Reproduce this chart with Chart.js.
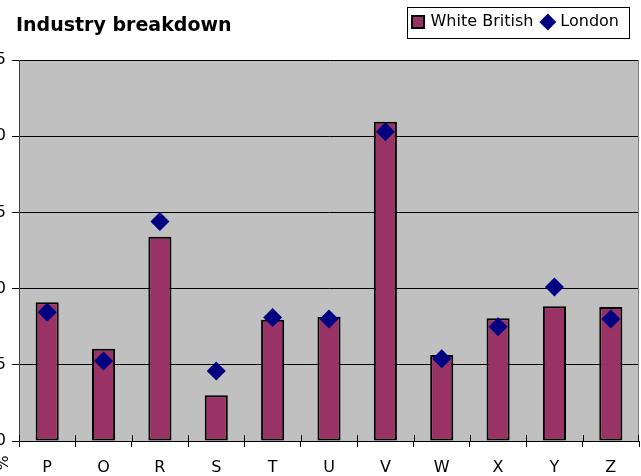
<!DOCTYPE html>
<html>
<head>
<meta charset="utf-8">
<title>Industry breakdown</title>
<style>
  html, body { margin: 0; padding: 0; background: #fff; overflow: hidden; }
  /* the value axis labels are cut by the left edge, as in the original picture */
  #wrap { position: absolute; left: -30px; top: 0; width: 671px; height: 476px; }
</style>
</head>
<body>
<div id="wrap"><canvas id="chart"></canvas></div>
<script src="https://cdn.jsdelivr.net/npm/chart.js@4.4.0/dist/chart.umd.min.js"></script>
<script>
var categories = ['P', 'O', 'R', 'S', 'T', 'U', 'V', 'W', 'X', 'Y', 'Z'];
var whiteBritish = [9.1, 6.05, 13.4, 3.0, 7.95, 8.15, 20.95, 5.65, 8.05, 8.85, 8.8];
var london = [8.45, 5.25, 14.4, 4.6, 8.1, 8.0, 20.3, 5.4, 7.5, 10.1, 8.0];
var yTicks = [0, 5, 10, 15, 20, 25];

var FONT = 'DejaVu Sans';

var extras = {
    id: 'extras',
    beforeDraw: function (chart) {
        var a = chart.chartArea, ctx = chart.ctx;
        ctx.save();
        ctx.fillStyle = '#c0c0c0';
        ctx.fillRect(a.left, a.top, a.right - a.left, a.bottom - a.top);
        ctx.restore();
    },
    afterLayout: function (chart) {
        // title starts near the plot's left edge
        var t = chart.titleBlock;
        t.left = chart.chartArea.left - 3;
        // legend goes up on the title row, right side
        var lg = chart.legend;
        var w = lg.width;
        lg.right = chart.width - 12;
        lg.left = lg.right - w;
        lg.top = 4;
        lg.bottom = 40;
    },
    afterDraw: function (chart) {
        var ctx = chart.ctx, a = chart.chartArea, lg = chart.legend;
        ctx.save();
        // legend frame
        var start = lg.right - lg.lineWidths[0];
        ctx.strokeStyle = '#000';
        ctx.lineWidth = 1;
        ctx.strokeRect(Math.round(start - 7) + 0.5, lg.top + 3.5, Math.round(lg.right - start + 7), 31);
        // right edge of plot
        ctx.strokeStyle = '#808080';
        ctx.beginPath();
        ctx.moveTo(Math.round(a.right) - 0.5, a.top);
        ctx.lineTo(Math.round(a.right) - 0.5, a.bottom);
        ctx.stroke();
        // category ticks cross the axis
        var xs = chart.scales.x;
        var step = xs.getPixelForValue(1) - xs.getPixelForValue(0);
        ctx.strokeStyle = '#000';
        ctx.beginPath();
        for (var i = 0; i <= categories.length; i++) {
            var px = Math.round(xs.getPixelForValue(0) - step / 2 + i * step) + 0.5;
            if (i === categories.length) px -= 1;
            ctx.moveTo(px, a.bottom - 6);
            ctx.lineTo(px, a.bottom);
        }
        ctx.stroke();
        // axis unit
        ctx.translate(34, 463);
        ctx.rotate(-Math.PI / 2);
        ctx.fillStyle = '#000';
        ctx.font = '16px "' + FONT + '"';
        ctx.textAlign = 'center';
        ctx.textBaseline = 'middle';
        ctx.fillText('%', 0, 0);
        ctx.restore();
    }
};

new Chart(document.getElementById('chart'), {
    data: {
        labels: categories,
        datasets: [{
            type: 'bar',
            label: 'White British',
            data: whiteBritish,
            backgroundColor: '#993366',
            borderColor: '#000000',
            borderWidth: 2,
            borderSkipped: false,
            barPercentage: 0.41,
            categoryPercentage: 1,
            pointStyle: 'rect',
            order: 2
        }, {
            type: 'line',
            label: 'London',
            data: london,
            showLine: false,
            pointStyle: 'rectRot',
            pointRadius: 9.5,
            pointHoverRadius: 9.5,
            pointBackgroundColor: '#000080',
            pointBorderColor: '#000080',
            backgroundColor: '#000080',
            borderColor: '#000080',
            pointBorderWidth: 0,
            order: 1
        }]
    },
    options: {
        responsive: true,
        maintainAspectRatio: false,
        animation: false,
        layout: { autoPadding: false, padding: { left: 0, right: 2, top: 0, bottom: 0 } },
        plugins: {
            title: {
                display: true,
                text: 'Industry breakdown',
                align: 'start',
                color: '#000',
                font: { family: FONT, size: 19, weight: 'bold', lineHeight: 1.2 },
                padding: { top: 15, bottom: 2.2 }
            },
            legend: {
                display: true,
                position: 'top',
                align: 'end',
                maxHeight: 20,
                labels: {
                    usePointStyle: true,
                    boxWidth: 9,
                    boxHeight: 12,
                    padding: 10,
                    color: '#000',
                    font: { family: FONT, size: 16 },
                    sort: function (a, b) { return a.datasetIndex - b.datasetIndex; }
                }
            },
            tooltip: { enabled: false }
        },
        scales: {
            x: {
                offset: true,
                grid: { offset: true, drawOnChartArea: false, drawTicks: true, tickLength: 6, color: '#000' },
                border: { display: true, color: '#000', width: 1 },
                ticks: { color: '#000', font: { family: FONT, size: 16 }, padding: 11, maxRotation: 0 },
                afterFit: function (scale) {
                    scale.height = 35;
                    scale.paddingLeft = 0;
                    scale.paddingRight = 0;
                }
            },
            y: {
                min: 0,
                max: 25,
                grid: { color: '#000', lineWidth: 1, tickLength: 7 },
                border: { display: true, color: '#404040', width: 1 },
                ticks: { color: '#000', font: { family: FONT, size: 16 }, padding: 6 },
                afterBuildTicks: function (scale) {
                    scale.ticks = yTicks.map(function (v) { return { value: v }; });
                },
                afterFit: function (scale) { scale.width = 49; }
            }
        }
    },
    plugins: [extras]
});
</script>
</body>
</html>
